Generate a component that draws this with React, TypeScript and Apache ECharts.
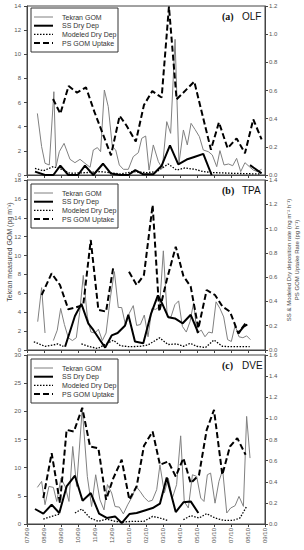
import React, { useEffect, useRef } from "react";
import * as echarts from "echarts";

const monthLabels = ["07/09","08/09","09/09","10/09","11/09","12/09","01/10","02/10","03/10","04/10","05/10","06/10","07/10","08/10","09/10"];
const seriesNames = ["Tekran GOM", "SS Dry Dep", "Modeled Dry Dep", "PS GOM Uptake"];
const panelTitles = [["(a)", "OLF"], ["(b)", "TPA"], ["(c)", "DVE"]];
const leftMax = [14, 18, 30];
const leftInterval = [2, 2, 5];
const rightMax = [1.2, 1.4, 1.6];

type P = [number, number] | null;

// Panel (a) OLF — x is months since 07/09
const tekranA: P[] = [[0.61,5.1],[0.86,2.35],[1.06,0.97],[1.31,0.83],[1.58,6.9],[1.71,0.7],[1.9,1.93],[2.18,2.62],[2.53,1.3],[2.82,1.02],[3.12,1.3],[3.41,0.97],[3.71,0.64],[3.9,2.07],[4.14,2.27],[4.33,1.93],[4.55,7.04],[4.78,5.66],[5.02,2.35],[5.22,2.07],[5.43,0.83],[5.67,0.47],[5.96,0.47],[6.25,1.52],[6.55,1.85],[6.75,3.04],[6.98,3.23],[7.18,0.41],[7.43,2.49],[7.73,1.1],[7.96,0.55],[8.22,4.42],[8.45,3.45],[8.71,11.24],[8.94,0.97],[9.2,3.73],[9.43,2.49],[9.65,4.28],[9.88,3.78],[10.14,3.18],[10.37,2.07],[10.67,1.93],[10.9,1.66],[11.16,0.69],[11.35,2.02],[11.59,0.83],[11.86,0.91],[12.1,0.77],[12.33,1.38],[12.57,0.28],[12.82,1.02],[13.08,0.69],[13.31,0.41],[13.55,0.28],[13.8,0.47]];
const ssA: P[] = [[0.47,0.024],[1.06,0],[1.55,0],[1.96,0.066],[2.43,0],[3.0,0],[3.41,0.066],[3.9,0],[4.47,0.08],[4.94,0.01],[5.47,0],[5.96,0],[6.37,0.035],[6.84,0.005],[7.43,0.005],[7.92,0.066],[8.41,0.21],[8.9,0.076],[9.39,0.11],[9.88,0.13],[10.37,0.15],[10.86,0],null,[13.12,0.07],[13.8,0.012]];
const modA: P[] = [[0.47,0.047],[0.96,0.03],[1.55,0.06],[2.04,0.04],[2.53,0.012],[3.51,0.017],[4.29,0.024],[4.88,0.017],[5.47,0.007],[6.25,0.024],[7.04,0.017],[7.63,0.024],[8.31,0.078],[8.8,0.035],[9.29,0.05],[9.88,0.04],[10.37,0.024],[10.96,0.017],[12.14,0.012],[13.71,0.007]];
const psA: P[] = [[1.53,0.54],[1.96,0.435],[2.45,0.632],[2.94,0.585],[3.47,0.622],[3.96,0.45],[4.94,0.14],[5.45,0.42],[5.86,0.35],[6.4,0.237],[6.88,0.497],[7.37,0.596],[7.92,0.55],[8.35,1.195],[8.8,0.537],[9.4,0.61],[9.84,0.663],[10.82,0.18],[11.29,0.374],[11.8,0.19],[12.33,0.26],[12.82,0.154],[13.31,0.395],[13.8,0.253]];

// Panel (b) TPA
const tekranB: P[] = [[0.63,3.0],[0.86,6.6],[1.06,1.8],null,[1.55,1.0],[1.78,2.1],[1.98,4.4],[2.2,2.7],[2.43,1.3],[2.67,1.0],[2.9,1.3],[3.1,4.0],[3.31,7.9],[3.55,3.5],[3.76,1.9],[4.0,1.8],[4.2,2.2],[4.43,1.0],[4.65,1.8],[4.9,5.5],[5.14,8.3],[5.37,4.5],[5.57,4.5],[5.8,2.6],[6.02,3.9],[6.25,4.7],[6.45,2.6],[6.67,2.7],[6.9,3.7],[7.12,1.4],[7.35,4.4],[7.57,4.3],[7.8,4.6],[8.02,10.5],[8.25,3.5],[8.47,3.5],[8.7,4.8],[8.92,5.2],[9.14,2.5],[9.37,1.9],[9.59,3.0],[9.8,5.0],[10.0,1.8],[10.25,2.1],[10.47,1.4],[10.69,1.9],[10.9,1.8],[11.12,5.1],[11.35,4.4],[11.57,3.5],[11.8,1.1],[12.02,0.9],[12.24,2.6],[12.47,1.4],[12.7,1.3],[12.92,1.5],[13.14,1.1]];
const ssB: P[] = [[2.24,0.027],[2.82,0.28],[3.2,0.38],[3.6,0.22],[3.9,0.165],[4.3,0.08],[4.6,0.02],[4.98,0.12],[5.33,0.14],[5.76,0.2],[5.96,0.29],[6.35,0.07],[6.84,0.055],[7.3,0.3],[7.7,0.45],[7.96,0.38],[8.31,0.27],[8.7,0.26],[9.16,0.22],[9.63,0.29],[10.08,0.14],null,[12.43,0.137],[12.73,0.19],[12.96,0.21]];
const modB: P[] = [[0.4,0.068],[0.8,0.045],[1.06,0.03],[1.5,0.04],[1.8,0.05],[2.14,0.03],null,[3.2,0.05],[3.7,0.027],[4.16,0.012],[4.65,0.05],[5.08,0.08],[5.5,0.035],[6.0,0.027],[6.6,0.03],[7.1,0.04],[7.8,0.1],[8.3,0.045],[8.8,0.05],[9.2,0.03],[9.6,0.055],[10.0,0.03],[10.5,0.02],[11.0,0.082],[11.5,0.03],[12.0,0.027],[12.5,0.027],[13.1,0.027]];
const psB: P[] = [[0.86,0.453],[1.45,0.631],[1.94,0.535],[2.43,0.335],[2.82,0.349],[3.31,0.37],[3.75,0.906],[4.2,0.33],[4.65,0.316],[5.08,0.686],null,[6.0,0.645],[6.45,0.535],[6.88,0.618],[7.39,1.194],[7.78,0.316],[8.22,0.576],[8.75,0.851],[9.2,0.609],[9.63,0.522],[10.08,0.178],[10.57,0.494],[11.06,0.453],[11.5,0.357],[11.94,0.316],[12.43,0.137],[12.92,0.233]];

// Panel (c) DVE
const tekranC: P[] = [[0.61,6.5],[0.86,7.56],[1.06,3.43],[1.29,6.67],[1.55,6.5],[1.75,4.0],[2.0,8.15],[2.24,6.67],[2.47,4.0],[2.69,13.76],[2.92,6.67],[3.25,20.5],[3.55,8.4],[3.8,3.1],[4.04,8.74],[4.29,4.3],[4.53,2.5],[4.73,7.0],[4.98,5.5],[5.18,3.1],[5.43,3.0],[5.67,1.8],[5.92,3.4],[6.2,4.9],[6.41,6.7],[6.65,5.8],[6.9,4.7],[7.14,4.0],[7.37,4.2],[7.63,6.1],[7.82,10.5],[8.08,5.5],[8.31,8.15],[8.55,4.6],[8.8,7.0],[9.04,15.65],[9.25,4.0],[9.49,2.84],[9.73,8.74],[9.98,8.45],[10.22,4.6],[10.41,4.0],[10.61,8.74],[10.8,9.04],[11.06,3.7],[11.29,7.56],[11.51,9.63],[11.75,1.95],[11.98,2.84],[12.24,3.25],[12.47,4.9],[12.73,3.13],[12.92,19.1],[13.12,11.7]];
const ssC: P[] = [[0.47,0.142],[0.96,0.098],[1.45,0.183],[1.9,0.104],[2.33,0.356],[2.82,0.457],[3.27,0.22],[3.75,0.293],[4.24,0.098],[4.69,0.057],[5.18,0.072],[5.57,0.009],[6.02,0.094],[6.45,0.104],[6.88,0.126],[7.39,0.151],[7.82,0.192],[8.22,0.441],[8.75,0.113],[9.2,0.205],[9.63,0.214],[10.08,0.104]];
const modC: P[] = [[0.96,0.047],[1.45,0.072],[1.9,0.094],null,[2.82,0.104],[3.22,0.142],[3.71,0.057],[4.2,0.025],[4.69,0.047],[5.18,0.025],[5.67,0.019],[6.16,0.025],[6.88,0.025],[7.39,0.072],[7.82,0.057],[8.31,0.031],null,[9.2,0.041],[9.63,0.079],[10.12,0.057],[10.57,0.098],[11.06,0.057],[11.55,0.035],[12.14,0.035],[12.53,0.057],[12.92,0.167]];
const psC: P[] = [[0.96,0.246],[1.45,0.671],[1.94,0.198],[2.33,0.891],[2.76,0.876],[3.25,1.1],[3.71,0.734],[4.2,0.718],[4.65,0.23],[5.08,0.435],[5.57,0.608],[6.02,0.23],[6.45,0.356],[6.88,0.74],[7.39,0.876],[7.82,0.561],[8.31,0.592],[8.75,0.45],[9.2,0.624],[9.63,0.387],[10.12,0.466],[10.57,0.891],[11.0,1.08],[11.49,0.466],[11.94,0.734],[12.37,0.813],[12.86,0.655]];

const panels = [
  [tekranA, ssA, modA, psA],
  [tekranB, ssB, modB, psB],
  [tekranC, ssC, modC, psC],
];

const gridTops = [6, 180, 355];
const gridHeights = [169, 170, 169];
const legendTops = [8, 184, 359];

function toData(arr: P[]) {
  return arr.map((p) => (p === null ? ["-", "-"] : p));
}

export default function App() {
  const ref = useRef<HTMLDivElement>(null);
  useEffect(() => {
    if (!ref.current) return;
    const chart = echarts.init(ref.current, null, { renderer: "svg" });
    const axisColor = "#444";
    const labelColor = "#555";
    const font = "Liberation Sans, Arial, sans-serif";
    const grids: any[] = [];
    const xAxes: any[] = [];
    const yAxes: any[] = [];
    const series: any[] = [];
    const graphics: any[] = [];
    const styles = [
      { color: "#808080", width: 1, type: "solid", dash: null as any },
      { color: "#000", width: 2, type: "solid", dash: null as any },
      { color: "#000", width: 1.3, type: [1.5, 1.5], dash: [1.5, 1.5] },
      { color: "#000", width: 2, type: [6, 3], dash: [6, 3] },
    ];
    for (let i = 0; i < 3; i++) {
      grids.push({ left: 27, width: 238, top: gridTops[i], height: gridHeights[i], show: true, borderColor: axisColor, borderWidth: 1, backgroundColor: "transparent" });
      xAxes.push({
        type: "value", gridIndex: i, min: 0, max: 14, interval: 1,
        axisLine: { lineStyle: { color: axisColor, width: 1 } },
        axisTick: { show: true, length: 3, lineStyle: { color: axisColor } },
        splitLine: { show: false },
        axisLabel: i === 2 ? {
          show: true, rotate: 90, fontSize: 6, color: labelColor, margin: 4, fontFamily: font,
          formatter: (v: number) => monthLabels[Math.round(v)] ?? "",
        } : { show: false },
      });
      yAxes.push({
        type: "value", gridIndex: i, position: "left", min: 0, max: leftMax[i], interval: leftInterval[i],
        axisLine: { show: true, lineStyle: { color: axisColor } },
        axisTick: { show: true, length: 3, lineStyle: { color: axisColor } },
        splitLine: { show: false },
        axisLabel: { fontSize: 6, color: labelColor, margin: 6, fontFamily: font },
      });
      yAxes.push({
        type: "value", gridIndex: i, position: "right", min: 0, max: rightMax[i], interval: 0.2,
        axisLine: { show: true, lineStyle: { color: axisColor } },
        axisTick: { show: true, length: 3, lineStyle: { color: axisColor } },
        splitLine: { show: false },
        axisLabel: { fontSize: 6, color: labelColor, margin: 4, fontFamily: font, formatter: (v: number) => v.toFixed(1) },
      });
      panels[i].forEach((arr, k) => {
        series.push({
          type: "line", name: seriesNames[k], xAxisIndex: i, yAxisIndex: k === 0 ? 2 * i : 2 * i + 1,
          data: toData(arr), symbol: "none", showSymbol: false, connectNulls: false,
          lineStyle: { color: styles[k].color, width: styles[k].width, type: styles[k].type as any },
          itemStyle: { color: styles[k].color },
          z: k === 0 ? 2 : 3,
        });
      });
      const lt = legendTops[i];
      graphics.push({ type: "rect", shape: { x: 31, y: lt, width: 87, height: 44 }, style: { fill: "#fff", stroke: "#333", lineWidth: 1 }, z: 10 });
      seriesNames.forEach((nm, k) => {
        const yy = lt + 9 + k * 8.7;
        graphics.push({ type: "line", shape: { x1: 34, y1: yy, x2: 53, y2: yy }, style: { stroke: styles[k].color, lineWidth: styles[k].width, lineDash: styles[k].dash }, z: 11 });
        graphics.push({ type: "text", x: 62, y: yy, style: { text: nm, fontSize: 7, fill: "#333", fontFamily: font, verticalAlign: "middle" }, z: 11 });
      });
      graphics.push({ type: "text", x: 222, y: gridTops[i] + 10, style: { text: panelTitles[i][0], fontSize: 10, fontWeight: "bold", fontFamily: "Liberation Serif, Times New Roman, serif", fill: "#111", verticalAlign: "middle" }, z: 11 });
      graphics.push({ type: "text", x: 242, y: gridTops[i] + 10, style: { text: panelTitles[i][1], fontSize: 10, fontFamily: font, fill: "#111", verticalAlign: "middle" }, z: 11 });
    }
    graphics.push({
      type: "text", x: 9, y: 252, rotation: Math.PI / 2,
      style: { text: "Tekran measured GOM (pg m⁻³)", fontSize: 7, fill: "#444", fontFamily: font, align: "center", verticalAlign: "middle" },
    });
    graphics.push({
      type: "text", x: 289, y: 260, rotation: Math.PI / 2,
      style: { text: "SS & Modeled Dry deposition rate (ng m⁻² h⁻¹)", fontSize: 6, fill: "#444", fontFamily: font, align: "center", verticalAlign: "middle" },
    });
    graphics.push({
      type: "text", x: 297, y: 260, rotation: Math.PI / 2,
      style: { text: "PS GOM Uptake Rate (pg h⁻¹)", fontSize: 6, fill: "#444", fontFamily: font, align: "center", verticalAlign: "middle" },
    });
    chart.setOption({
      animation: false,
      backgroundColor: "#fff",
      textStyle: { fontFamily: font },
      grid: grids, xAxis: xAxes, yAxis: yAxes, series, graphic: graphics,
    });
    return () => chart.dispose();
  }, []);
  return <div ref={ref} style={{ position: "fixed", left: 0, top: 0, width: 304, height: 550 }} />;
}
